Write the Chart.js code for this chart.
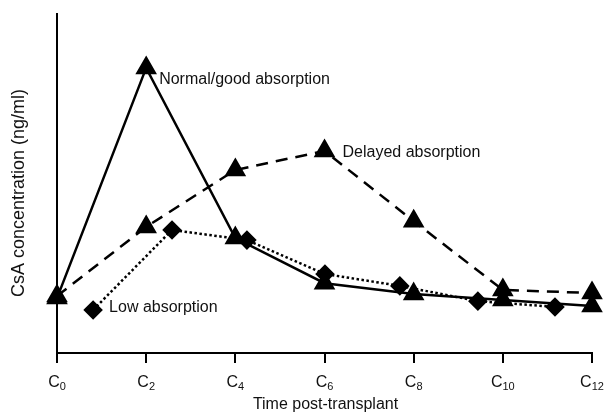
<!DOCTYPE html>
<html>
<head>
<meta charset="utf-8">
<script src="https://cdn.jsdelivr.net/npm/chart.js@4.4.0/dist/chart.umd.min.js"></script>
<style>
  html, body { margin: 0; padding: 0; background: #fff; }
  #wrap { width: 605px; height: 415px; position: relative; }
</style>
</head>
<body>
<div id="wrap"><canvas id="chart"></canvas></div>
<script>
// hours after dose, tick labels C0..C12
const tickHours = [0, 2, 4, 6, 8, 10, 12];
const tickSubs = ['0', '2', '4', '6', '8', '10', '12'];

// concentrations in arbitrary units (axis has no numbers)
const normalHours = [0, 2, 4, 6, 8, 10, 12];
const normalValues = [16.2, 84.1, 33.9, 20.6, 17.4, 15.6, 13.9];

const delayedHours = [0, 2, 4, 6, 8, 10, 12];
const delayedValues = [16.8, 37.2, 54.0, 59.6, 38.9, 18.6, 17.7];

const lowHours = [0.81, 2.58, 4.26, 6.01, 7.69, 9.44, 11.17];
const lowValues = [12.7, 36.3, 33.3, 23.3, 19.8, 15.3, 13.6];

const toPoints = (xs, ys) => xs.map((x, i) => ({ x: x, y: ys[i] }));

const FONT = '"Liberation Sans", Arial, Helvetica, sans-serif';

// series labels, drawn next to a chosen point of each line
const seriesNotes = [
    { text: 'Normal/good absorption', ds: 0, idx: 1, dx: 13, dy: 12 },
    { text: 'Delayed absorption', ds: 1, idx: 3, dx: 18, dy: 2 },
    { text: 'Low absorption', ds: 2, idx: 0, dx: 16, dy: -2 }
];

const textPlugin = {
    id: 'textPlugin',
    afterDraw(chart) {
        const ctx = chart.ctx;
        const xs = chart.scales.x;
        const area = chart.chartArea;
        ctx.save();
        ctx.fillStyle = '#111';

        // x tick labels with subscripts
        ctx.textBaseline = 'alphabetic';
        tickHours.forEach((h, i) => {
            const px = xs.getPixelForValue(h);
            ctx.font = '16px ' + FONT;
            const cw = ctx.measureText('C').width;
            ctx.font = '11px ' + FONT;
            const sw = ctx.measureText(tickSubs[i]).width;
            const start = px - (cw + sw) / 2;
            ctx.font = '16px ' + FONT;
            ctx.textAlign = 'left';
            ctx.fillText('C', start, area.bottom + 34);
            ctx.font = '11px ' + FONT;
            ctx.fillText(tickSubs[i], start + cw, area.bottom + 37);
        });

        // axis titles
        ctx.font = '16px ' + FONT;
        ctx.textAlign = 'center';
        ctx.textBaseline = 'middle';
        ctx.fillText('Time post-transplant', (area.left + area.right) / 2 + 1, 405);
        ctx.save();
        ctx.translate(19, 193);
        ctx.rotate(-Math.PI / 2);
        ctx.font = '18px ' + FONT;
        ctx.fillText('CsA concentration (ng/ml)', 0, 0);
        ctx.restore();

        // series labels
        ctx.font = '16px ' + FONT;
        ctx.textAlign = 'left';
        seriesNotes.forEach(n => {
            const pt = chart.getDatasetMeta(n.ds).data[n.idx];
            ctx.fillText(n.text, pt.x + n.dx, pt.y + n.dy);
        });
        ctx.restore();
    }
};

new Chart(document.getElementById('chart'), {
    type: 'line',
    data: {
        datasets: [
            {
                label: 'Normal/good absorption',
                data: toPoints(normalHours, normalValues),
                borderColor: '#000',
                backgroundColor: '#000',
                borderWidth: 2.5,
                pointStyle: 'triangle',
                pointRadius: 10,
                tension: 0,
                clip: false
            },
            {
                label: 'Delayed absorption',
                data: toPoints(delayedHours, delayedValues),
                borderColor: '#000',
                backgroundColor: '#000',
                borderWidth: 2.5,
                borderDash: [12, 8],
                pointStyle: 'triangle',
                pointRadius: 10,
                tension: 0,
                clip: false
            },
            {
                label: 'Low absorption',
                data: toPoints(lowHours, lowValues),
                borderColor: '#000',
                backgroundColor: '#000',
                borderWidth: 2.5,
                borderDash: [2.5, 2.5],
                pointStyle: 'rectRot',
                pointRadius: 8,
                tension: 0,
                clip: false
            }
        ]
    },
    options: {
        responsive: true,
        maintainAspectRatio: false,
        animation: false,
        layout: { padding: { left: 57, right: 13, top: 14, bottom: 52 } },
        plugins: {
            legend: { display: false },
            tooltip: { enabled: false }
        },
        scales: {
            x: {
                type: 'linear',
                min: 0,
                max: 12,
                afterBuildTicks: (axis) => { axis.ticks = tickHours.map(v => ({ value: v })); },
                ticks: { display: false },
                grid: { drawOnChartArea: false, drawTicks: true, tickLength: 10, color: '#000', lineWidth: 2 },
                border: { color: '#000', width: 2 }
            },
            y: {
                min: 0,
                max: 100,
                ticks: { display: false },
                grid: { display: false, drawTicks: false },
                border: { color: '#000', width: 2 }
            }
        }
    },
    plugins: [textPlugin]
});
</script>
</body>
</html>
